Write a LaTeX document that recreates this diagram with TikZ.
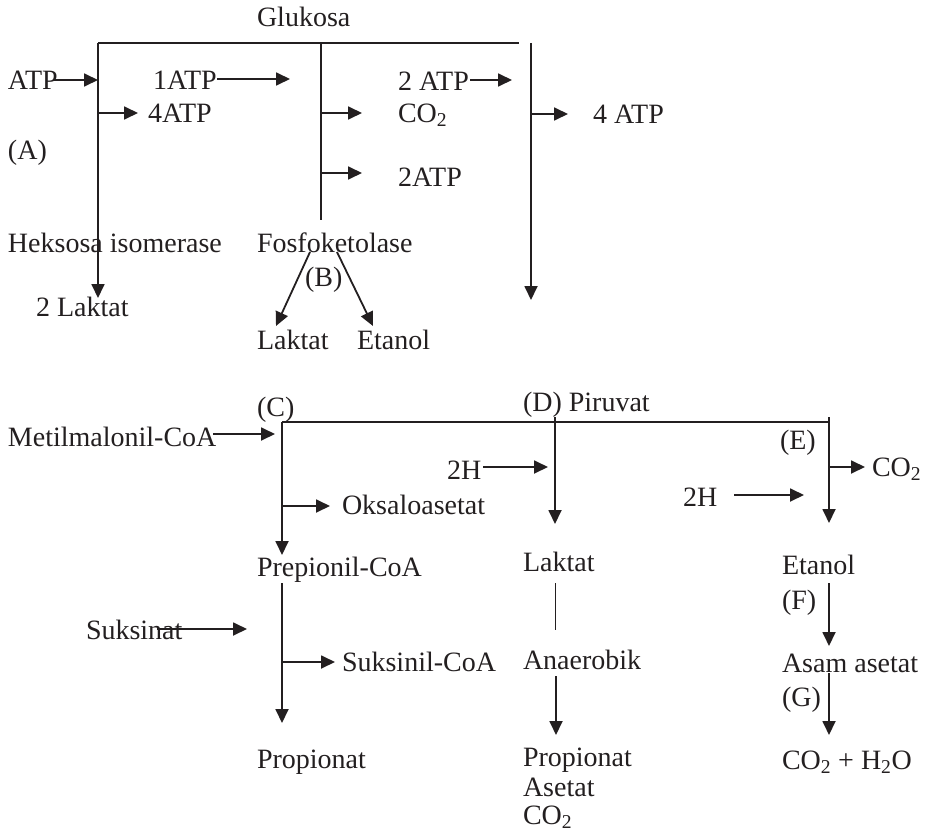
\documentclass[tikz,border=0pt]{standalone}
\usepackage{fontspec}
\setmainfont{Liberation Serif}
\usetikzlibrary{arrows.meta}
\definecolor{ink}{HTML}{231F20}
\begin{document}
\begin{tikzpicture}[x=1pt,y=-1pt,
  every path/.style={color=ink},
  lbl/.style={anchor=west, inner sep=0pt, outer sep=0pt, text=ink,
    text height=18.5pt, text depth=0pt, font=\fontsize{28}{31}\selectfont},
  flow/.style={line width=1.8pt, -{Triangle[length=14pt,width=13pt]}},
  bar/.style={line width=1.5pt}]
\useasboundingbox (0,0) rectangle (925,832);

% ---------- upper scheme: glucose fermentation ----------
\node[lbl] (glu)   at (257,17)  {Glukosa};
\node[lbl] (atp)   at (8,80)    {ATP};
\node[lbl] (atp1)  at (153,80)  {1ATP};
\node[lbl] (atp4)  at (148,113) {4ATP};
\node[lbl] (lblA)  at (8,150)   {(A)};
\node[lbl] (atp2)  at (398,81)  {2 ATP};
\node[lbl] (co2a)  at (398,113) {CO\textsubscript{2}};
\node[lbl] (atp2b) at (398,177) {2ATP};
\node[lbl] (atp4b) at (593,114) {4 ATP};
\node[lbl] (heks)  at (8,243)   {Heksosa isomerase};
\node[lbl] (lak2)  at (36,307)  {2 Laktat};
\node[lbl] (fosf)  at (257,243) {Fosfoketolase};
\node[lbl] (lblB)  at (305,277) {(B)};
\node[lbl] (lakB)  at (257,340) {Laktat};
\node[lbl] (etaB)  at (357,340) {Etanol};

\coordinate (barL) at (98,43);   \coordinate (barR) at (519,43);
\coordinate (aBot) at (98,298);
\coordinate (mTop) at (321,43);  \coordinate (mBot) at (321,220);
\coordinate (rTop) at (531,43);  \coordinate (rBot) at (531,300);
\coordinate (atpS)  at (53,80);   \coordinate (atpE)  at (98,80);
\coordinate (atp1S) at (217,79);  \coordinate (atp1E) at (290,79);
\coordinate (atp4S) at (98,113);  \coordinate (atp4E) at (138,113);
\coordinate (co2S)  at (321,113); \coordinate (co2E)  at (362,113);
\coordinate (atpbS) at (321,173); \coordinate (atpbE) at (362,173);
\coordinate (atp2S) at (470,80);  \coordinate (atp2E) at (512,80);
\coordinate (rAtpS) at (531,114); \coordinate (rAtpE) at (568,114);
\coordinate (bLS) at (310,252);   \coordinate (bLE) at (276,326);
\coordinate (bRS) at (337,252);   \coordinate (bRE) at (373,326);

\draw[bar]  (barL) -- (barR);
\draw[flow] (barL) -- (aBot);
\draw[bar]  (mTop) -- (mBot);
\draw[flow] (rTop) -- (rBot);
\draw[flow] (atpS) -- (atpE);
\draw[flow] (atp1S) -- (atp1E);
\draw[flow] (atp4S) -- (atp4E);
\draw[flow] (co2S) -- (co2E);
\draw[flow] (atpbS) -- (atpbE);
\draw[flow] (atp2S) -- (atp2E);
\draw[flow] (rAtpS) -- (rAtpE);
\draw[flow] (bLS) -- (bLE);
\draw[flow] (bRS) -- (bRE);

% ---------- lower scheme: pyruvate pathways ----------
\node[lbl] (lblC)    at (257,407) {(C)};
\node[lbl] (metil)   at (8,437)   {Metilmalonil-CoA};
\node[lbl] (oksa)    at (342,505) {Oksaloasetat};
\node[lbl] (h2a)     at (447,470) {2H};
\node[lbl] (prep)    at (257,567) {Prepionil-CoA};
\node[lbl] (suks)    at (86,630)  {Suksinat};
\node[lbl] (suksCoA) at (342,662) {Suksinil-CoA};
\node[lbl] (propC)   at (257,759) {Propionat};
\node[lbl] (piru)    at (523,402) {(D) Piruvat};
\node[lbl] (lakD)    at (523,562) {Laktat};
\node[lbl] (anae)    at (523,660) {Anaerobik};
\node[lbl] (propD)   at (523,757) {Propionat};
\node[lbl] (aset)    at (523,787) {Asetat};
\node[lbl] (co2D)    at (523,815) {CO\textsubscript{2}};
\node[lbl] (lblE)    at (780,440) {(E)};
\node[lbl] (co2E)    at (872,467) {CO\textsubscript{2}};
\node[lbl] (h2b)     at (683,497) {2H};
\node[lbl] (etaE)    at (782,565) {Etanol};
\node[lbl] (lblF)    at (782,600) {(F)};
\node[lbl] (asam)    at (782,663) {Asam asetat};
\node[lbl] (lblG)    at (782,697) {(G)};
\node[lbl] (final)   at (782,760) {CO\textsubscript{2} + H\textsubscript{2}O};

\coordinate (hL) at (282,422);  \coordinate (hR) at (830,422);
\coordinate (cEnd)  at (282,555);
\coordinate (cTop2) at (282,583); \coordinate (cEnd2) at (282,723);
\coordinate (metS)  at (213,434); \coordinate (metE)  at (275,434);
\coordinate (okS)   at (282,506); \coordinate (okE)   at (330,506);
\coordinate (hAS)   at (483,467); \coordinate (hAE)   at (548,467);
\coordinate (dTop)  at (555,417); \coordinate (dEnd)  at (555,524);
\coordinate (lkS)   at (555,583); \coordinate (lkE)   at (555,630);
\coordinate (anS)   at (556,676); \coordinate (anE)   at (556,735);
\coordinate (eTop)  at (829,417); \coordinate (eEnd)  at (829,523);
\coordinate (ceS)   at (829,467); \coordinate (ceE)   at (865,467);
\coordinate (hBS)   at (734,495); \coordinate (hBE)   at (804,495);
\coordinate (fS)    at (829,583); \coordinate (fE)    at (829,646);
\coordinate (gS)    at (829,673); \coordinate (gE)    at (829,735);
\coordinate (skS)   at (157,629); \coordinate (skE)   at (247,629);
\coordinate (scS)   at (282,662); \coordinate (scE)   at (335,662);

\draw[bar]  (hL) -- (hR);
\draw[flow] (hL) -- (cEnd);
\draw[flow] (cTop2) -- (cEnd2);
\draw[flow] (metS) -- (metE);
\draw[flow] (okS) -- (okE);
\draw[flow] (hAS) -- (hAE);
\draw[flow] (dTop) -- (dEnd);
\draw[line width=1pt] (lkS) -- (lkE);
\draw[flow] (anS) -- (anE);
\draw[flow] (eTop) -- (eEnd);
\draw[flow] (ceS) -- (ceE);
\draw[flow] (hBS) -- (hBE);
\draw[flow] (fS) -- (fE);
\draw[flow] (gS) -- (gE);
\draw[flow] (skS) -- (skE);
\draw[flow] (scS) -- (scE);
\end{tikzpicture}
\end{document}
